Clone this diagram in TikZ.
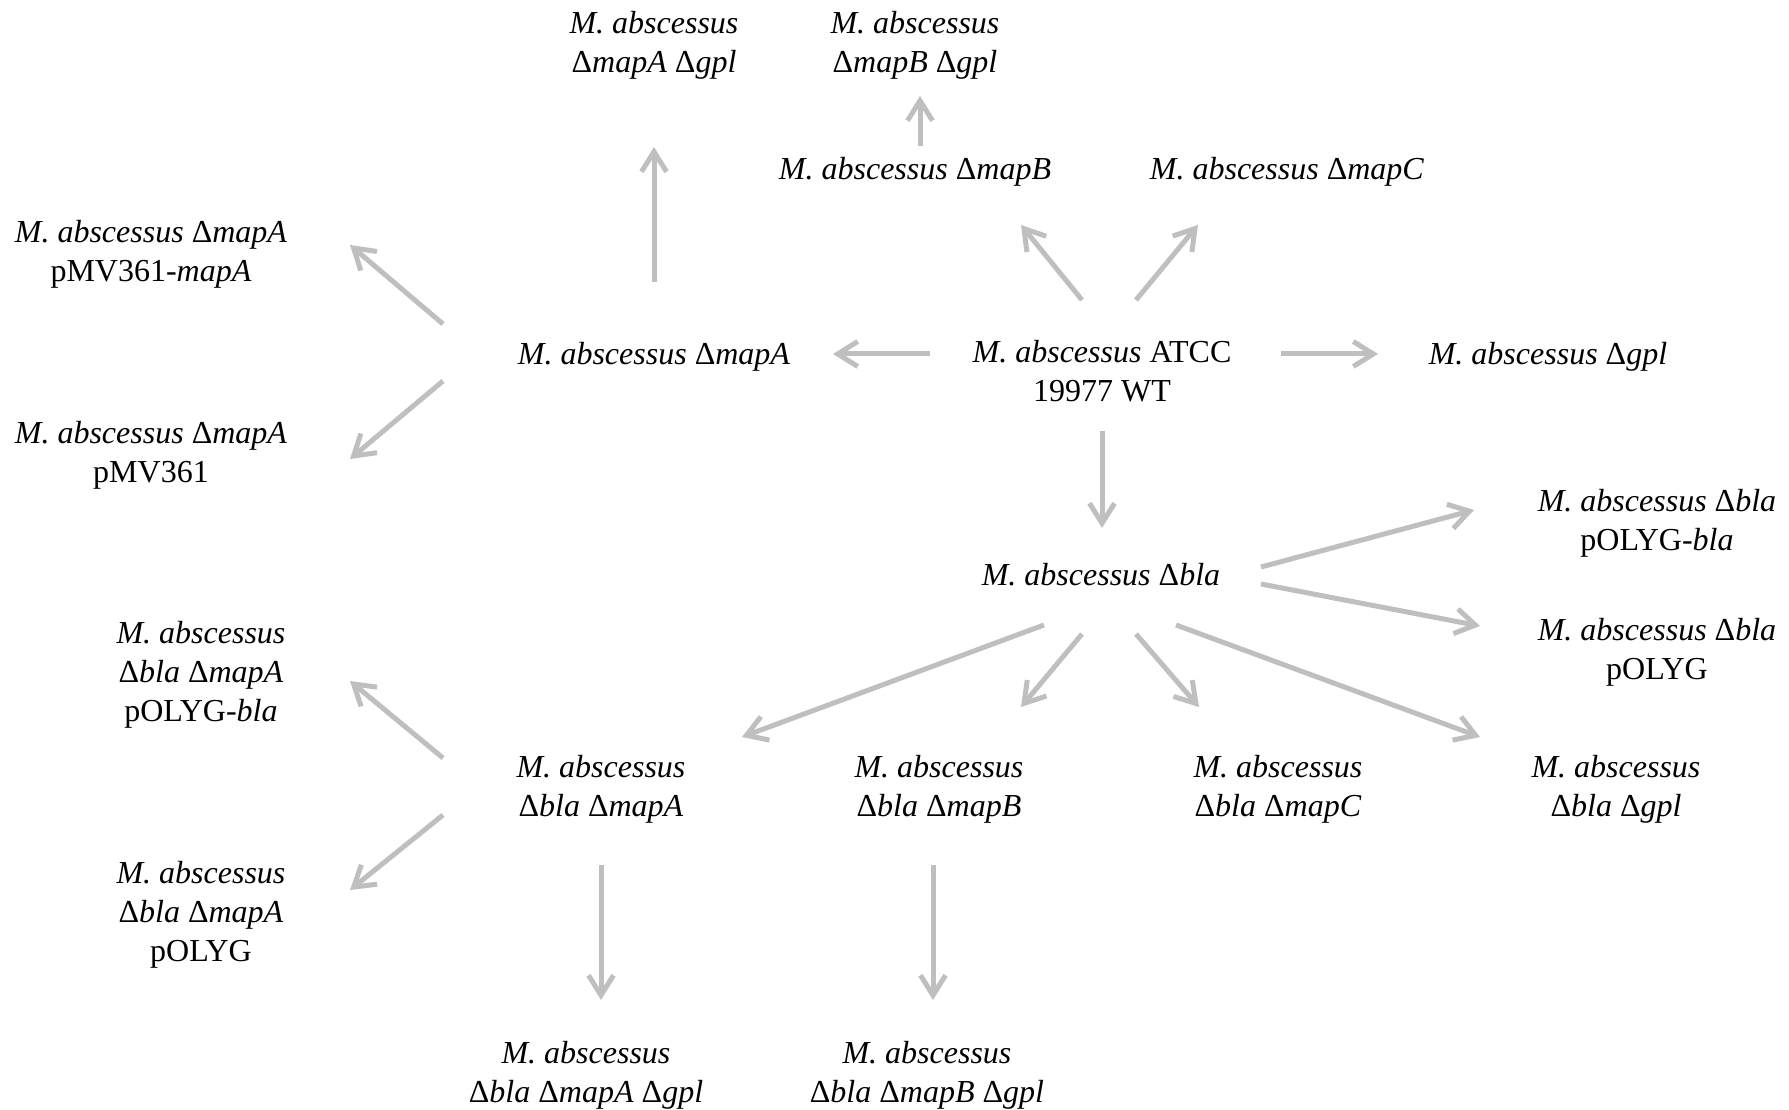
\documentclass[tikz,border=0pt]{standalone}
\usepackage{fontspec}
\setmainfont{Liberation Serif}
\usetikzlibrary{arrows.meta,positioning,calc}

\newcommand{\mabs}{\strut\textit{M.\ abscessus}}
\newcommand{\dko}[1]{Δ\textit{#1}}

\begin{document}
\begin{tikzpicture}[
        x=0.4pt, y=-0.4pt,
        strain/.style={align=center, inner sep=0pt,
            font=\fontsize{12.8}{15.6}\selectfont,
            execute at end node=\strut},
        arr/.style={draw=black!25, line width=2pt,
            -{Straight Barb[length=8pt,width=10pt]}},
    ]
    \useasboundingbox (0,0) rectangle (1789,1110);
    % parent strain and single mutants
    \node[strain] (WT) at (1102,374) {\mabs{} ATCC\\19977 WT};
    \node[strain] (mapA) at (654,357) {\mabs{} \dko{mapA}};
    \node[strain] (gpl) at (1548,357) {\mabs{} \dko{gpl}};
    \node[strain] (mapB) at (915,172) {\mabs{} \dko{mapB}};
    \node[strain] (mapC) at (1287,172) {\mabs{} \dko{mapC}};
    \node[strain] (bla) at (1101,578) {\mabs{} \dko{bla}};
    % derived from mapA / mapB
    \node[strain] (mapAgpl) at (654,45) {\mabs\\\dko{mapA} \dko{gpl}};
    \node[strain] (mapBgpl) at (915,45) {\mabs\\\dko{mapB} \dko{gpl}};
    \node[strain] (mapAc) at (151,254) {\mabs{} \dko{mapA}\\pMV361-\textit{mapA}};
    \node[strain] (mapAe) at (151,455) {\mabs{} \dko{mapA}\\pMV361};
    % derived from bla
    \node[strain] (blac) at (1657,523) {\mabs{} \dko{bla}\\pOLYG-\textit{bla}};
    \node[strain] (blae) at (1657,652) {\mabs{} \dko{bla}\\pOLYG};
    \node[strain] (bmA) at (601,789) {\mabs\\\dko{bla} \dko{mapA}};
    \node[strain] (bmB) at (939,789) {\mabs\\\dko{bla} \dko{mapB}};
    \node[strain] (bmC) at (1278,789) {\mabs\\\dko{bla} \dko{mapC}};
    \node[strain] (bgpl) at (1616,789) {\mabs\\\dko{bla} \dko{gpl}};
    \node[strain] (bmAc) at (201,675) {\mabs\\\dko{bla} \dko{mapA}\\pOLYG-\textit{bla}};
    \node[strain] (bmAe) at (201,915) {\mabs\\\dko{bla} \dko{mapA}\\pOLYG};
    \node[strain] (bmAgpl) at (586,1075) {\mabs\\\dko{bla} \dko{mapA} \dko{gpl}};
    \node[strain] (bmBgpl) at (927,1075) {\mabs\\\dko{bla} \dko{mapB} \dko{gpl}};

    % arrows
    \draw[arr] ($(WT)+(-172,-20)$) -- ($(mapA)+(179,-3)$);
    \draw[arr] ($(WT)+(179,-20)$) -- ($(gpl)+(-170,-3)$);
    \draw[arr] ($(WT)+(-20,-74)$) -- ($(mapB)+(106,53)$);
    \draw[arr] ($(WT)+(34,-74)$) -- ($(mapC)+(-89,53)$);
    \draw[arr] ($(WT)+(0,57)$) -- ($(bla)+(1,-50)$);
    \draw[arr] ($(mapB)+(5,-26)$) -- ($(mapBgpl)+(5,51)$);
    \draw[arr] ($(mapA)+(0,-75)$) -- ($(mapAgpl)+(0,102)$);
    \draw[arr] ($(mapA)+(-211,-33)$) -- ($(mapAc)+(199,-9)$);
    \draw[arr] ($(mapA)+(-211,24)$) -- ($(mapAe)+(199,4)$);
    \draw[arr] ($(bla)+(160,-11)$) -- ($(blac)+(-183,-13)$);
    \draw[arr] ($(bla)+(160,6)$) -- ($(blae)+(-177,-26)$);
    \draw[arr] ($(bla)+(75,47)$) -- ($(bgpl)+(-136,-52)$);
    \draw[arr] ($(bla)+(35,56)$) -- ($(bmC)+(-79,-82)$);
    \draw[arr] ($(bla)+(-19,56)$) -- ($(bmB)+(82,-82)$);
    \draw[arr] ($(bla)+(-57,47)$) -- ($(bmA)+(141,-52)$);
    \draw[arr] ($(bmA)+(-158,-31)$) -- ($(bmAc)+(149,6)$);
    \draw[arr] ($(bmA)+(-158,26)$) -- ($(bmAe)+(149,-25)$);
    \draw[arr] ($(bmA)+(0,76)$) -- ($(bmAgpl)+(15,-75)$);
    \draw[arr] ($(bmB)+(-6,76)$) -- ($(bmBgpl)+(6,-75)$);
\end{tikzpicture}
\end{document}
